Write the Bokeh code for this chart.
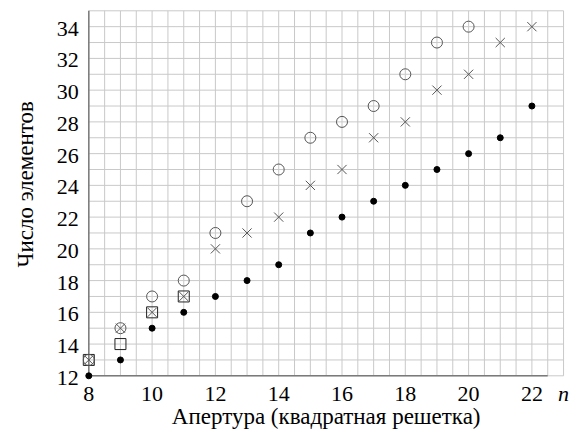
import numpy as np
from bokeh.plotting import figure
from bokeh.models import Range1d
from bokeh.core.properties import value
from bokeh.embed import file_html
from bokeh.resources import INLINE

# ---- data ----
n_dots = [8, 9, 10, 11, 12, 13, 14, 15, 16, 17, 18, 19, 20, 21, 22]
v_dots = [12, 13, 15, 16, 17, 18, 19, 21, 22, 23, 24, 25, 26, 27, 29]

n_cross = [8, 9, 10, 11, 12, 13, 14, 15, 16, 17, 18, 19, 20, 21, 22]
v_cross = [13, 15, 16, 17, 20, 21, 22, 24, 25, 27, 28, 30, 31, 33, 34]

n_circ = [8, 9, 10, 11, 12, 13, 14, 15, 16, 17, 18, 19, 20]
v_circ = [13, 15, 17, 18, 21, 23, 25, 27, 28, 29, 31, 33, 34]

n_sq = [8, 9, 10, 11]
v_sq = [13, 14, 16, 17]

x_ticks = [8, 10, 12, 14, 16, 18, 20, 22]
y_ticks = [12, 14, 16, 18, 20, 22, 24, 26, 28, 30, 32, 34]
x_tick_labels = [str(t) for t in x_ticks]
y_tick_labels = [str(t) for t in y_ticks]

x_title = "Апертура (квадратная решетка)"
y_title = "Число элементов"
x_var = "n"

x_min, x_max, x_axis_end = 8, 23, 22.5
y_min, y_max = 12, 35
x_grid_step, y_grid_step = 0.5, 1

FONT = "Liberation Serif"

# ---- layout (pixels) ----
W, H = 574, 432
PX_X = 31.65          # pixels per unit n
PX_Y = 15.87          # pixels per element
ORIGIN_X = 88.3       # pixel position of x_min
TOP_Y = 10.3          # pixel position of y_max
x_start = x_min - ORIGIN_X / PX_X
x_end = x_start + W / PX_X
y_end = y_max + TOP_Y / PX_Y
y_start = y_end - H / PX_Y

p = figure(width=W, height=H, output_backend="svg", toolbar_location=None,
           x_range=Range1d(x_start, x_end), y_range=Range1d(y_start, y_end),
           min_border=0)
p.frame_width = W
p.frame_height = H
p.outline_line_color = None
p.axis.visible = False
p.xgrid.visible = False
p.ygrid.visible = False

# grid
gx = np.arange(x_min, x_max + 0.001, x_grid_step)
gy = np.arange(y_min, y_max + 0.001, y_grid_step)
GRID = "#c9c9c9"
p.segment(x0=gx, y0=[y_min] * len(gx), x1=gx, y1=[y_max] * len(gx), line_color=GRID, line_width=1)
p.segment(x0=[x_min] * len(gy), y0=gy, x1=[x_max] * len(gy), y1=gy, line_color=GRID, line_width=1)

# axis lines
AX = "#7a7a7a"
p.line(x=[x_min, x_min], y=[y_min, y_max], line_color=AX, line_width=1.5)
p.line(x=[x_min, x_axis_end], y=[y_min, y_min], line_color=AX, line_width=1.5)

# markers
p.scatter(n_sq, v_sq, marker="square", size=11, fill_color=None, line_color="#222222", line_width=1)
p.scatter(n_circ, v_circ, marker="circle", size=11, fill_color=None, line_color="#555555", line_width=1)
p.scatter(n_cross, v_cross, marker="x", size=13, line_color="#555555", line_width=1)
p.scatter(n_dots, v_dots, marker="circle", size=6, fill_color="black", line_color="black")

# tick labels
TICK_FS = "22px"
TITLE_FS = "23px"
p.text(x=x_ticks, y=[y_min] * len(x_ticks), text=x_tick_labels, y_offset=18,
       text_font=value(FONT), text_font_size=value(TICK_FS), text_color="black",
       text_align="center", text_baseline="middle")
p.text(x=[x_min] * len(y_ticks), y=y_ticks, text=y_tick_labels, x_offset=-10, y_offset=2,
       text_font=value(FONT), text_font_size=value(TICK_FS), text_color="black",
       text_align="right", text_baseline="middle")
p.text(x=[x_max], y=[y_min], text=[x_var], y_offset=18,
       text_font=value(FONT), text_font_size=value(TICK_FS), text_font_style="italic",
       text_color="black", text_align="center", text_baseline="middle")

# axis titles
p.text(x=[(x_min + x_max) / 2], y=[y_min], text=[x_title], y_offset=41,
       text_font=value(FONT), text_font_size=value(TITLE_FS), text_color="black",
       text_align="center", text_baseline="middle")
p.text(x=[x_min], y=[(y_min + y_max) / 2], text=[y_title], x_offset=-63, y_offset=-9,
       angle=np.pi / 2, text_font=value(FONT), text_font_size=value(TITLE_FS),
       text_color="black", text_align="center", text_baseline="middle")

open("out.html", "w").write(file_html(p, INLINE))
